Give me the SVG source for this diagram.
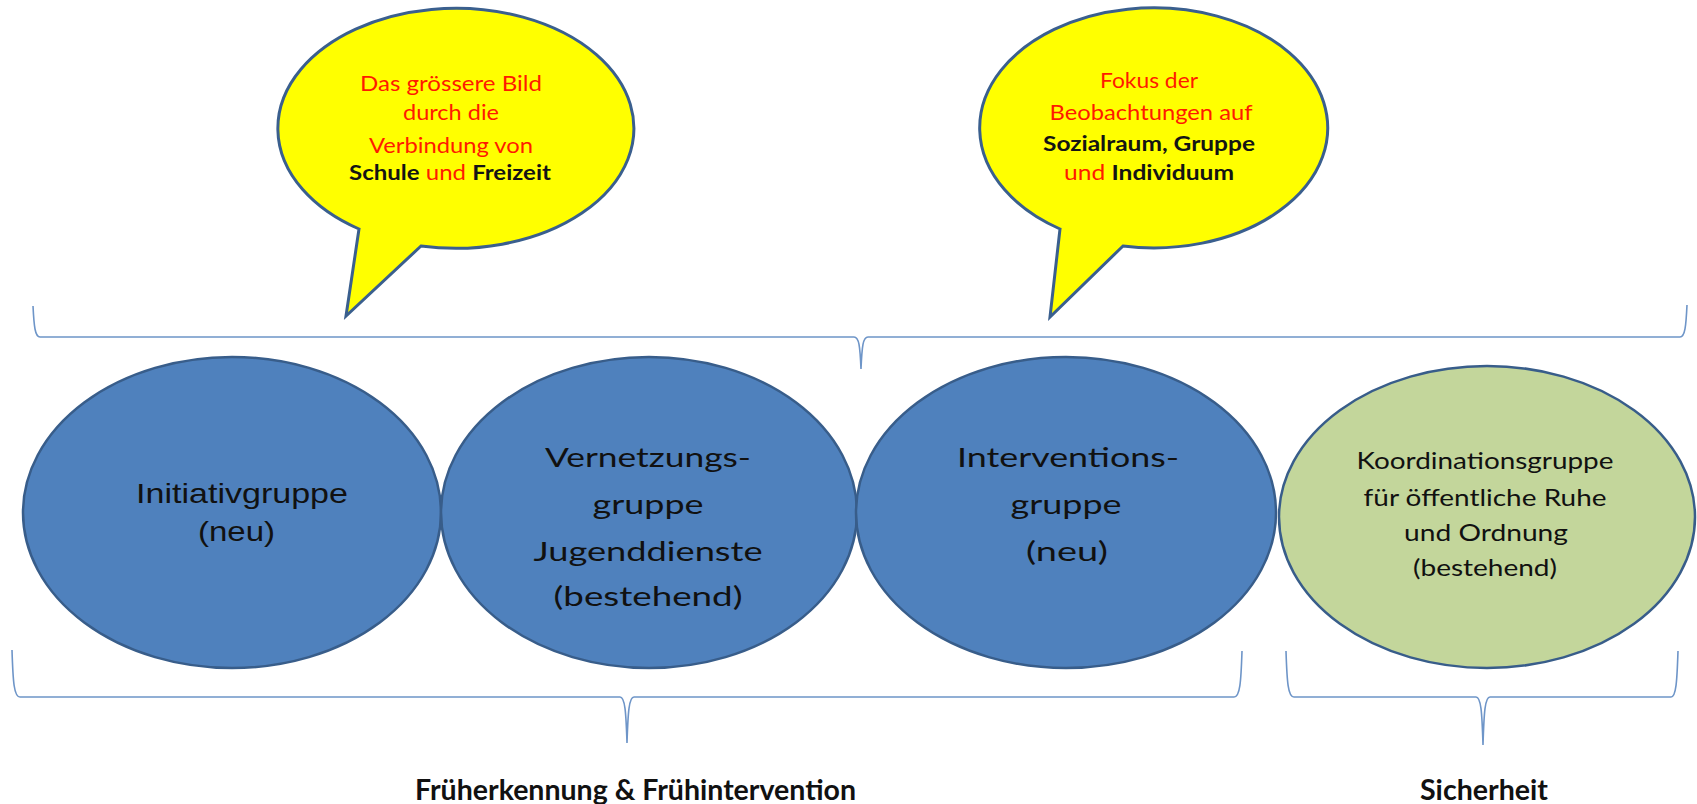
<svg xmlns="http://www.w3.org/2000/svg" width="1697" height="804" viewBox="0 0 1697 804">
<style>
.bubble{fill:#FFFF00;stroke:#3A5F8E;stroke-width:3;stroke-linejoin:miter}
.blue{fill:#4F81BD;stroke:#385D8A;stroke-width:2.5}
.green{fill:#C3D69B;stroke:#385D8A;stroke-width:2.5}
.brace{fill:none;stroke:#6E95C8;stroke-width:1.6}
.bt{font-family:Lato,"Open Sans","Liberation Sans",sans-serif;font-size:21px;fill:#FF1A00;text-anchor:middle}
.bb{font-weight:bold;fill:#141414}
.nt{font-family:Lato,"Open Sans","Liberation Sans",sans-serif;font-size:27.5px;fill:#111;text-anchor:middle}
.nt4{font-family:Lato,"Open Sans","Liberation Sans",sans-serif;font-size:24px;fill:#111;text-anchor:middle}
.na{font-family:"Liberation Sans",Arial,sans-serif;font-size:28px;fill:#111;text-anchor:middle}
.lab{font-family:Lato,"Open Sans","Liberation Sans",sans-serif;font-size:28px;font-weight:bold;fill:#111;text-anchor:middle}
</style>
<rect width="1697" height="804" fill="#FFFFFF"/>
<g id="bubble1">
<path class="bubble" d="M421,246 A178,120 0 1 0 359,229 L346,316 Z"/>
<text class="bt" x="451" y="91" textLength="182" lengthAdjust="spacingAndGlyphs">Das grössere Bild</text>
<text class="bt" x="451" y="120" textLength="96" lengthAdjust="spacingAndGlyphs">durch die</text>
<text class="bt" x="451" y="153" textLength="164" lengthAdjust="spacingAndGlyphs">Verbindung von</text>
<text class="bt" x="450" y="180" textLength="202" lengthAdjust="spacingAndGlyphs"><tspan class="bb">Schule</tspan> und <tspan class="bb">Freizeit</tspan></text>
</g>
<g id="bubble2">
<path class="bubble" d="M1123,246 A174,120 0 1 0 1060,229 L1050,317 Z"/>
<text class="bt" x="1149" y="88" textLength="98" lengthAdjust="spacingAndGlyphs">Fokus der</text>
<text class="bt" x="1151" y="120" textLength="203" lengthAdjust="spacingAndGlyphs">Beobachtungen auf</text>
<text class="bt" x="1149" y="151" textLength="212" lengthAdjust="spacingAndGlyphs"><tspan class="bb">Sozialraum, Gruppe</tspan></text>
<text class="bt" x="1149" y="180" textLength="170" lengthAdjust="spacingAndGlyphs">und <tspan class="bb">Individuum</tspan></text>
</g>
<g id="connectors">
<path class="brace" d="M33,306 C34,326 35,337 40,337 L854,337 C859,337 860,346 861,369 C862,346 863,337 868,337 L1680,337 C1685,337 1686,326 1687,305"/>
<path class="brace" d="M12,650 C13,682 14,697 20,697 L620,697 C625,697 626,712 627,743 C628,712 629,697 634,697 L1234,697 C1240,697 1241,682 1242,651"/>
<path class="brace" d="M1286,651 C1287,682 1288,697 1294,697 L1476,697 C1481,697 1482,712 1483,745 C1484,712 1485,697 1490,697 L1671,697 C1676,697 1677,682 1678,651"/>
</g>
<g id="initiativgruppe">
<ellipse class="blue" cx="232" cy="512.5" rx="209" ry="155.5"/>
<text class="na" x="242" y="503" textLength="212" lengthAdjust="spacingAndGlyphs">Initiativgruppe</text>
<text class="na" x="236.5" y="541" textLength="77" lengthAdjust="spacingAndGlyphs">(neu)</text>
</g>
<g id="vernetzungsgruppe">
<ellipse class="blue" cx="649" cy="512.5" rx="208" ry="155.5"/>
<text class="nt" x="648" y="467" textLength="206" lengthAdjust="spacingAndGlyphs">Vernetzungs-</text>
<text class="nt" x="648" y="514" textLength="111" lengthAdjust="spacingAndGlyphs">gruppe</text>
<text class="nt" x="648" y="561" textLength="229" lengthAdjust="spacingAndGlyphs">Jugenddienste</text>
<text class="nt" x="648" y="606" textLength="189" lengthAdjust="spacingAndGlyphs">(bestehend)</text>
</g>
<g id="interventionsgruppe">
<ellipse class="blue" cx="1066" cy="512.5" rx="210" ry="155.5"/>
<text class="nt" x="1068" y="467" textLength="222" lengthAdjust="spacingAndGlyphs">Interventions-</text>
<text class="nt" x="1066" y="514" textLength="111" lengthAdjust="spacingAndGlyphs">gruppe</text>
<text class="nt" x="1067" y="561" textLength="82" lengthAdjust="spacingAndGlyphs">(neu)</text>
</g>
<g id="koordinationsgruppe">
<ellipse class="green" cx="1487" cy="517" rx="208" ry="151"/>
<text class="nt4" x="1485" y="469" textLength="257" lengthAdjust="spacingAndGlyphs">Koordinationsgruppe</text>
<text class="nt4" x="1485" y="506" textLength="243" lengthAdjust="spacingAndGlyphs">für öffentliche Ruhe</text>
<text class="nt4" x="1486" y="541" textLength="164" lengthAdjust="spacingAndGlyphs">und Ordnung</text>
<text class="nt4" x="1485" y="576" textLength="144" lengthAdjust="spacingAndGlyphs">(bestehend)</text>
</g>
<g id="label-frueh">
<text class="lab" x="635.5" y="800" textLength="441" lengthAdjust="spacingAndGlyphs">Früherkennung &amp; Frühintervention</text>
</g>
<g id="label-sicherheit">
<text class="lab" x="1484" y="800" textLength="128" lengthAdjust="spacingAndGlyphs">Sicherheit</text>
</g>
</svg>
